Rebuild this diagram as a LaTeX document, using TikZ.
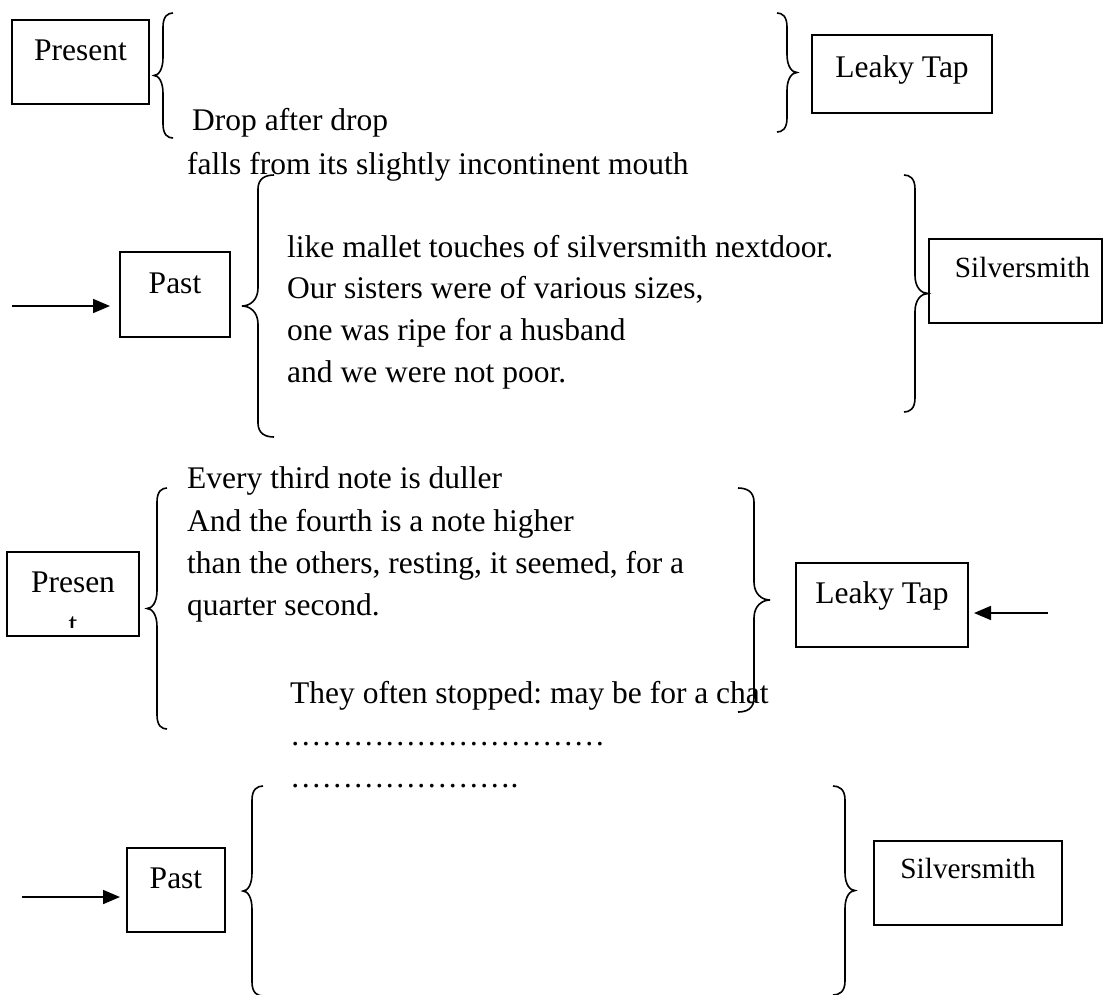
\documentclass[tikz,border=0pt]{standalone}
\usepackage{fontspec}
\setmainfont{Liberation Serif}
\usetikzlibrary{arrows.meta}
\frenchspacing
\newcommand{\fsbig}{\fontsize{31.5}{42}\selectfont}
\newcommand{\fssmall}{\fontsize{29.3}{40}\selectfont}
\newcommand{\ellx}{…}
\newcommand{\mybrace}[5]{% #1 x tip, #2 x vertical, #3 x arm ends, #4 y top, #5 y bottom
  \draw[brc] (#3,#4) .. controls ({(#3+#2)/2},#4) and (#2,{#4+3}) .. (#2,{#4+14})
    -- (#2,{(#4+#5)/2-18}) .. controls (#2,{(#4+#5)/2-6}) and ({(#1+#2)/2},{(#4+#5)/2}) .. (#1,{(#4+#5)/2})
    .. controls ({(#1+#2)/2},{(#4+#5)/2}) and (#2,{(#4+#5)/2+6}) .. (#2,{(#4+#5)/2+18})
    -- (#2,{#5-14}) .. controls (#2,{#5-3}) and ({(#3+#2)/2},#5) .. (#3,#5);}
\begin{document}
\begin{tikzpicture}[x=1pt,y=-1pt,
  tbox/.style={draw, line width=1.7pt, rectangle, inner ysep=0pt, inner xsep=0pt,
               outer sep=0pt, font=\fsbig, anchor=north west, text height=40pt, text depth=44pt},
  txt/.style={font=\fsbig, inner sep=0pt, anchor=base west},
  brc/.style={line width=1.6pt},
  arr/.style={line width=1.7pt, -{Triangle[length=17pt,width=14pt]}}
]
\useasboundingbox (0,0) rectangle (1103,994);

% boxes
\node[tbox, minimum width=137pt, text height=40pt, text depth=44pt] (present1) at (12,20) {Present};
\node[tbox, minimum width=180pt, text height=42pt, text depth=36pt] (leaky1) at (812,35) {Leaky Tap};
\node[tbox, minimum width=110pt, text height=41pt, text depth=44pt] (past1) at (120,252) {Past};
\node[tbox, minimum width=173pt, text height=38pt, text depth=46pt, font=\fssmall] (silver1) at (929,239) {\hspace*{14pt}Silversmith};
\node[tbox, minimum width=132pt, text height=40pt, text depth=44pt] (present2) at (7,552) {Presen};
\begin{scope}
  \clip (7,552) rectangle (139,627);
  \node[txt, anchor=base] (tcut) at (73,634) {t};
\end{scope}
\node[tbox, minimum width=172pt, text height=40pt, text depth=44pt] (leaky2) at (796,563) {Leaky Tap};
\node[tbox, minimum width=98pt, text height=40pt, text depth=44pt] (past2) at (127,848) {Past};
\node[tbox, minimum width=188pt, text height=37pt, text depth=47pt, font=\fssmall] (silver2) at (874,841) {Silversmith};

% braces
\mybrace{154}{163}{173}{13}{138}
\mybrace{797}{787}{777}{13}{132}
\mybrace{242}{258}{274}{175}{437}
\mybrace{928}{915}{904}{175}{412}
\mybrace{147}{157}{167}{488}{729}
\mybrace{770}{754}{738}{488}{712}
\mybrace{243}{252}{263}{786}{996}
\mybrace{855}{845}{833}{786}{995}

% poem text
\node[txt] (l1) at (192,130) {Drop after drop};
\node[txt] (l2) at (187,174) {falls from its slightly incontinent mouth};
\node[txt] (l3) at (287,257) {like mallet touches of silversmith nextdoor.};
\node[txt] (l4) at (287,298.7) {Our sisters were of various sizes,};
\node[txt] (l5) at (287,340.4) {one was ripe for a husband};
\node[txt] (l6) at (287,382) {and we were not poor.};
\node[txt] (l7) at (187,488) {Every third note is duller};
\node[txt] (l8) at (187,531) {And the fourth is a note higher};
\node[txt] (l9) at (187,573) {than the others, resting, it seemed, for a};
\node[txt] (l10) at (187,615) {quarter second.};
\node[txt] (l11) at (290,703) {They often stopped: may be for a chat};
\node[txt] (l12) at (290,745) {\ellx\ellx\ellx\ellx\ellx\ellx\ellx\ellx\ellx\ellx};
\node[txt] (l13) at (290,787) {\ellx\ellx\ellx\ellx\ellx\ellx\ellx.};

% arrows
\coordinate (a1s) at (12,306);
\coordinate (a2s) at (1048,613);
\coordinate (a3s) at (22,897);
\draw[arr, shorten >=10pt] (a1s) -- (a1s -| past1.west);
\draw[arr, shorten >=6pt] (a2s) -- (a2s -| leaky2.east);
\draw[arr, shorten >=7pt] (a3s) -- (a3s -| past2.west);
\end{tikzpicture}
\end{document}
